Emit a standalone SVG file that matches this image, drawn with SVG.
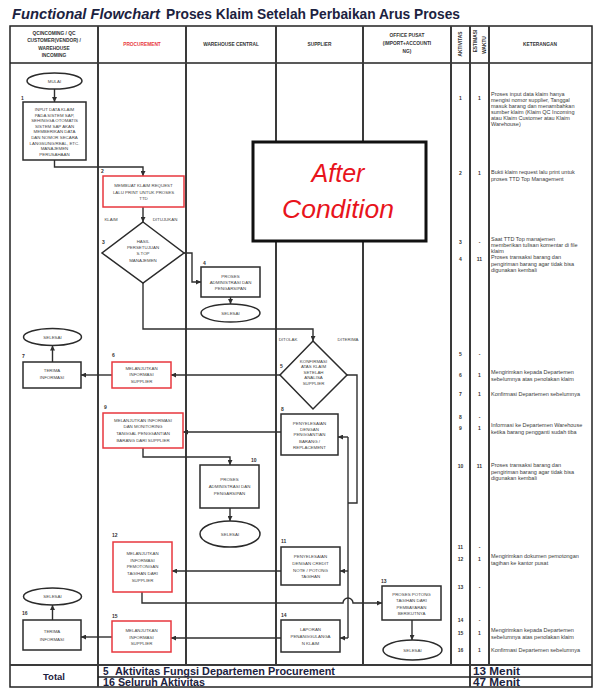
<svg xmlns="http://www.w3.org/2000/svg" width="594" height="691" viewBox="0 0 594 691">
  <style>
    .lane { stroke: #3a3a3a; stroke-width: 2; fill: none; }
    .grid { stroke: #222; stroke-width: 1.5; fill: none; }
    .box { fill: #fff; stroke: #2b2b2b; stroke-width: 1.5; }
    .rbox { fill: #fff; stroke: #e8373e; stroke-width: 1.5; }
    .term { fill: #fff; stroke: #2b2b2b; stroke-width: 1.5; }
    .con { stroke: #2f2f2f; stroke-width: 1.4; fill: none; }
    .t { font-family: "Liberation Sans", Arial, sans-serif; font-size: 4.4px; fill: #444; text-anchor: middle; }
    .lbl { font-family: "Liberation Sans", Arial, sans-serif; font-size: 5px; font-weight: bold; fill: #333; }
    .hd { font-family: "Liberation Sans", Arial, sans-serif; font-size: 4.8px; font-weight: bold; fill: #333; text-anchor: middle; }
    .num { font-family: "Liberation Sans", Arial, sans-serif; font-size: 5px; font-weight: bold; fill: #333; text-anchor: middle; }
    .ket { font-family: "Liberation Sans", Arial, sans-serif; font-size: 5.5px; fill: #3a3a3a; }
    .tot { font-family: "Liberation Sans", Arial, sans-serif; font-weight: bold; fill: #1c2240; }
  </style>
  <defs>
    <marker id="arr" viewBox="0 0 10 10" refX="10" refY="5" markerUnits="userSpaceOnUse" markerWidth="5" markerHeight="5" orient="auto">
      <path d="M0,0 L10,5 L0,10 z" fill="#2f2f2f"/>
    </marker>
  </defs>

  <rect width="594" height="691" fill="#fff"/>

  <!-- title -->
  <g id="title">
    <text x="12" y="19" class="tot" font-size="14" font-style="italic" textLength="148" lengthAdjust="spacingAndGlyphs">Functional Flowchart</text>
    <text x="166" y="19" class="tot" font-size="14" textLength="294" lengthAdjust="spacingAndGlyphs">Proses Klaim Setelah Perbaikan Arus Proses</text>
  </g>

  <!-- swimlane table -->
  <g id="table">
    <rect x="10" y="26" width="582" height="661" class="grid"/>
    <line x1="10" y1="63" x2="592" y2="63" class="grid"/>
    <line x1="98" y1="26" x2="98" y2="687" class="lane"/>
    <line x1="186" y1="26" x2="186" y2="665" class="lane"/>
    <line x1="276" y1="26" x2="276" y2="665" class="lane"/>
    <line x1="363" y1="26" x2="363" y2="665" class="lane"/>
    <line x1="451" y1="26" x2="451" y2="665" class="lane"/>
    <line x1="470" y1="26" x2="470" y2="687" class="lane"/>
    <line x1="489" y1="26" x2="489" y2="665" class="lane"/>
    <line x1="10" y1="665" x2="592" y2="665" class="lane"/>
    <line x1="98" y1="677" x2="592" y2="677" class="grid"/>

    <text class="hd" x="54" y="35">QCINCOMING / QC</text>
    <text class="hd" x="54" y="42">CUSTOMER(VENDOR) /</text>
    <text class="hd" x="54" y="49.5">WAREHOUSE</text>
    <text class="hd" x="54" y="57">INCOMING</text>
    <text class="hd" x="142" y="46" style="fill:#e8373e">PROCUREMENT</text>
    <text class="hd" x="231" y="46">WAREHOUSE CENTRAL</text>
    <text class="hd" x="319.5" y="46">SUPPLIER</text>
    <text class="hd" x="407" y="37">OFFICE PUSAT</text>
    <text class="hd" x="407" y="45">(IMPORT+ACCOUNTI</text>
    <text class="hd" x="407" y="53">NG)</text>
    <text class="hd" transform="translate(462,44) rotate(-90)">AKTIVITAS</text>
    <text class="hd" transform="translate(477,41) rotate(-90)">ESTIMASI</text>
    <text class="hd" transform="translate(485.5,45) rotate(-90)">WAKTU</text>
    <text class="hd" x="540" y="46">KETERANGAN</text>
  </g>

  <!-- activity numbers and time estimates -->
  <g id="activity-columns">
    <text class="num" x="460.5" y="100">1</text><text class="num" x="479.5" y="100">1</text>
    <text class="num" x="460.5" y="175">2</text><text class="num" x="479.5" y="175">1</text>
    <text class="num" x="460.5" y="244">3</text><text class="num" x="479.5" y="244">-</text>
    <text class="num" x="460.5" y="261">4</text><text class="num" x="479.5" y="261">11</text>
    <text class="num" x="460.5" y="356">5</text><text class="num" x="479.5" y="356">-</text>
    <text class="num" x="460.5" y="377">6</text><text class="num" x="479.5" y="377">1</text>
    <text class="num" x="460.5" y="396">7</text><text class="num" x="479.5" y="396">1</text>
    <text class="num" x="460.5" y="419">8</text><text class="num" x="479.5" y="419">-</text>
    <text class="num" x="460.5" y="430">9</text><text class="num" x="479.5" y="430">1</text>
    <text class="num" x="460.5" y="468">10</text><text class="num" x="479.5" y="468">11</text>
    <text class="num" x="460.5" y="549">11</text><text class="num" x="479.5" y="549">-</text>
    <text class="num" x="460.5" y="561">12</text><text class="num" x="479.5" y="561">1</text>
    <text class="num" x="460.5" y="589">13</text><text class="num" x="479.5" y="589">-</text>
    <text class="num" x="460.5" y="622">14</text><text class="num" x="479.5" y="622">-</text>
    <text class="num" x="460.5" y="635">15</text><text class="num" x="479.5" y="635">1</text>
    <text class="num" x="460.5" y="652">16</text><text class="num" x="479.5" y="652">1</text>
  </g>

  <!-- remarks column -->
  <g id="keterangan">
    <text class="ket" x="491" y="96">Proses input data klaim hanya</text>
    <text class="ket" x="491" y="102">mengisi nomor supplier, Tanggal</text>
    <text class="ket" x="491" y="108">masuk barang dan menambahkan</text>
    <text class="ket" x="491" y="114">sumber klaim (Klaim QC Incoming</text>
    <text class="ket" x="491" y="120">atau Klaim Customer atau Klaim</text>
    <text class="ket" x="491" y="126">Warehouse)</text>
    <text class="ket" x="491" y="174">Bukti klaim request lalu print untuk</text>
    <text class="ket" x="491" y="181">proses TTD Top Management</text>
    <text class="ket" x="491" y="241">Saat TTD Top manajemen</text>
    <text class="ket" x="491" y="247">memberikan tulisan komentar di file</text>
    <text class="ket" x="491" y="253">klaim</text>
    <text class="ket" x="491" y="259">Proses transaksi barang dan</text>
    <text class="ket" x="491" y="265.5">pengiriman barang agar tidak bisa</text>
    <text class="ket" x="491" y="272">digunakan kembali</text>
    <text class="ket" x="491" y="374">Mengirimkan kepada Departemen</text>
    <text class="ket" x="491" y="381">sebelumnya atas penolakan klaim</text>
    <text class="ket" x="491" y="396">Konfirmasi Departemen sebelumnya</text>
    <text class="ket" x="491" y="427">Informasi ke Departemen Warehouse</text>
    <text class="ket" x="491" y="434">ketika barang pengganti sudah tiba</text>
    <text class="ket" x="491" y="467">Proses transaksi barang dan</text>
    <text class="ket" x="491" y="473.5">pengiriman barang agar tidak bisa</text>
    <text class="ket" x="491" y="480">digunakan kembali</text>
    <text class="ket" x="491" y="558">Mengirimkan dokumen pemotongan</text>
    <text class="ket" x="491" y="565">tagihan ke kantor pusat</text>
    <text class="ket" x="491" y="632">Mengirimkan kepada Departemen</text>
    <text class="ket" x="491" y="639">sebelumnya atas penolakan klaim</text>
    <text class="ket" x="491" y="652">Konfirmasi Departemen sebelumnya</text>
  </g>

  <!-- connectors -->
  <g id="connectors">
    <path class="con" d="M54.5,89 V102" marker-end="url(#arr)"/>
    <path class="con" d="M54.5,160 V167 H143 V176" marker-end="url(#arr)"/>
    <path class="con" d="M143,207 V222" marker-end="url(#arr)"/>
    <path class="con" d="M184,253 H192 V282 H201" marker-end="url(#arr)"/>
    <path class="con" d="M230.5,297 V304" marker-end="url(#arr)"/>
    <path class="con" d="M143,283 V329 H313 V341" marker-end="url(#arr)"/>
    <path class="con" d="M280,375 H171" marker-end="url(#arr)"/>
    <path class="con" d="M112,375 H81" marker-end="url(#arr)"/>
    <path class="con" d="M52.5,362 V345.5" marker-end="url(#arr)"/>
    <path class="con" d="M347,375 H357 V503 H348"/>
    <path class="con" d="M348,437 V638"/>
    <path class="con" d="M348,437 H338" marker-end="url(#arr)"/>
    <path class="con" d="M348,571 H340" marker-end="url(#arr)"/>
    <path class="con" d="M348,638 H340" marker-end="url(#arr)"/>
    <path class="con" d="M281,432 H183" marker-end="url(#arr)"/>
    <path class="con" d="M143,448 V457 H230 V465" marker-end="url(#arr)"/>
    <path class="con" d="M230,508 V521" marker-end="url(#arr)"/>
    <path class="con" d="M281,571 H172" marker-end="url(#arr)"/>
    <path class="con" d="M142,592 V603 H343 A5,5 0 0 1 353,603 H382" marker-end="url(#arr)"/>
    <path class="con" d="M412,620 V640" marker-end="url(#arr)"/>
    <path class="con" d="M281,638 H171" marker-end="url(#arr)"/>
    <path class="con" d="M112,637 H81" marker-end="url(#arr)"/>
    <path class="con" d="M52.5,620 V605" marker-end="url(#arr)"/>
    <text class="t" x="111" y="221">KLAIM</text>
    <text class="t" x="165" y="221">DITUJUKAN</text>
    <text class="t" x="288" y="341">DITOLAK</text>
    <text class="t" x="348" y="341">DITERIMA</text>
  </g>

  <!-- QC incoming lane -->
  <g id="start">
    <ellipse cx="54.5" cy="81" rx="27.5" ry="8" class="term"/>
    <text class="t" x="54.5" y="82.5">MULAI</text>
  </g>
  <g id="n1">
    <rect x="23" y="102" width="63" height="58" class="box"/>
    <text class="lbl" x="21" y="99.5">1</text>
    <text class="t" x="54.5" y="111">INPUT DATA KLAIM</text>
    <text class="t" x="54.5" y="116.6">PADA SISTEM SAP,</text>
    <text class="t" x="54.5" y="122.2">SEHINGGA OTOMATIS</text>
    <text class="t" x="54.5" y="127.8">SISTEM SAP AKAN</text>
    <text class="t" x="54.5" y="133.4">MEMBERIKAN DATA</text>
    <text class="t" x="54.5" y="139">DAN NOMOR SECARA</text>
    <text class="t" x="54.5" y="144.6">LANGSUNG/REAL, ETC.</text>
    <text class="t" x="54.5" y="150.2">MANAJEMEN</text>
    <text class="t" x="54.5" y="155.8">PERUSAHAAN</text>
  </g>
  <g id="n7">
    <rect x="23" y="362" width="58" height="26" class="box"/>
    <text class="lbl" x="22" y="358">7</text>
    <text class="t" x="52" y="372">TERIMA</text>
    <text class="t" x="52" y="379">INFORMASI</text>
  </g>
  <g id="end7">
    <ellipse cx="52.5" cy="337" rx="29" ry="8.5" class="term"/>
    <text class="t" x="52.5" y="338.5">SELESAI</text>
  </g>
  <g id="n16">
    <rect x="23" y="620" width="58" height="30" class="box"/>
    <text class="lbl" x="22" y="615">16</text>
    <text class="t" x="52" y="633">TERIMA</text>
    <text class="t" x="52" y="640.5">INFORMASI</text>
  </g>
  <g id="end16">
    <ellipse cx="52.5" cy="596.5" rx="29" ry="8.5" class="term"/>
    <text class="t" x="52.5" y="598">SELESAI</text>
  </g>

  <!-- procurement lane -->
  <g id="n2">
    <rect x="103" y="176" width="81" height="31" class="rbox"/>
    <text class="lbl" x="101" y="173">2</text>
    <text class="t" x="143.5" y="187">MEMBUAT KLAIM REQUEST</text>
    <text class="t" x="143.5" y="193.5">LALU PRINT UNTUK PROSES</text>
    <text class="t" x="143.5" y="200">TTD</text>
  </g>
  <g id="n3">
    <polygon points="143,222 184,253 143,283 102,253" class="box"/>
    <text class="lbl" x="102" y="244">3</text>
    <text class="t" x="143" y="242.5">HASIL</text>
    <text class="t" x="143" y="248.5">PERSETUJUAN</text>
    <text class="t" x="143" y="255">S.TOP</text>
    <text class="t" x="143" y="262">MANAJEMEN</text>
  </g>
  <g id="n6">
    <rect x="112" y="362" width="59" height="26" class="rbox"/>
    <text class="lbl" x="112" y="357">6</text>
    <text class="t" x="141.5" y="369.5">MELANJUTKAN</text>
    <text class="t" x="141.5" y="376">INFORMASI</text>
    <text class="t" x="141.5" y="382.5">SUPPLIER</text>
  </g>
  <g id="n9">
    <rect x="103" y="413" width="80" height="35" class="rbox"/>
    <text class="lbl" x="104" y="409">9</text>
    <text class="t" x="143" y="421.5">MELANJUTKAN INFORMASI</text>
    <text class="t" x="143" y="428">DAN MONITORING</text>
    <text class="t" x="143" y="435">TANGGAL PENGGANTIAN</text>
    <text class="t" x="143" y="441.5">BARANG DARI SUPPLIER</text>
  </g>
  <g id="n12">
    <rect x="113" y="542" width="59" height="50" class="rbox"/>
    <text class="lbl" x="112" y="537">12</text>
    <text class="t" x="142.5" y="555">MELANJUTKAN</text>
    <text class="t" x="142.5" y="561.5">INFORMASI</text>
    <text class="t" x="142.5" y="568">PEMOTONGAN</text>
    <text class="t" x="142.5" y="575">TAGIHAN DARI</text>
    <text class="t" x="142.5" y="581.5">SUPPLIER</text>
  </g>
  <g id="n15">
    <rect x="112" y="621" width="59" height="31" class="rbox"/>
    <text class="lbl" x="112" y="617.5">15</text>
    <text class="t" x="141.5" y="631.5">MELANJUTKAN</text>
    <text class="t" x="141.5" y="638.5">INFORMASI</text>
    <text class="t" x="141.5" y="645">SUPPLIER</text>
  </g>

  <!-- warehouse central lane -->
  <g id="n4">
    <rect x="201" y="267" width="59" height="30" class="box"/>
    <text class="lbl" x="203" y="264.5">4</text>
    <text class="t" x="230.5" y="277.5">PROSES</text>
    <text class="t" x="230.5" y="283.5">ADMINISTRASI DAN</text>
    <text class="t" x="230.5" y="290">PENGARSIPAN</text>
  </g>
  <g id="end4">
    <ellipse cx="230.5" cy="313" rx="29.5" ry="9" class="term"/>
    <text class="t" x="230.5" y="314.5">SELESAI</text>
  </g>
  <g id="n10">
    <rect x="200" y="465" width="59" height="43" class="box"/>
    <text class="lbl" x="251" y="461.5">10</text>
    <text class="t" x="229.5" y="481">PROSES</text>
    <text class="t" x="229.5" y="488">ADMINISTRASI DAN</text>
    <text class="t" x="229.5" y="494.5">PENGARSIPAN</text>
  </g>
  <g id="end10">
    <ellipse cx="230" cy="534" rx="30" ry="13" class="term"/>
    <text class="t" x="230" y="535.5">SELESAI</text>
  </g>

  <!-- supplier lane -->
  <g id="n5">
    <polygon points="313,341 347,375 313,409 280,375" class="box"/>
    <text class="lbl" x="280" y="368">5</text>
    <text class="t" x="313.5" y="362.5">KONFIRMASI</text>
    <text class="t" x="313.5" y="368">ATAS KLAIM</text>
    <text class="t" x="313.5" y="373.5">SETELAH</text>
    <text class="t" x="313.5" y="379">ANALISA</text>
    <text class="t" x="313.5" y="384.5">SUPPLIER</text>
  </g>
  <g id="n8">
    <rect x="281" y="414" width="57" height="41" class="box"/>
    <text class="lbl" x="281" y="411">8</text>
    <text class="t" x="309.5" y="425">PENYELESAIAN</text>
    <text class="t" x="309.5" y="430.5">DENGAN</text>
    <text class="t" x="309.5" y="436">PENGGANTIAN</text>
    <text class="t" x="309.5" y="442.5">BARANG /</text>
    <text class="t" x="309.5" y="449">REPLACEMENT</text>
  </g>
  <g id="n11">
    <rect x="281" y="547" width="59" height="38" class="box"/>
    <text class="lbl" x="281" y="543">11</text>
    <text class="t" x="310.5" y="558">PENYELESAIAN</text>
    <text class="t" x="310.5" y="565">DENGAN CREDIT</text>
    <text class="t" x="310.5" y="571.5">NOTE / POTONG</text>
    <text class="t" x="310.5" y="578">TAGIHAN</text>
  </g>
  <g id="n14">
    <rect x="281" y="620" width="59" height="32" class="box"/>
    <text class="lbl" x="281" y="616.5">14</text>
    <text class="t" x="310.5" y="631">LAPORAN</text>
    <text class="t" x="310.5" y="638">PENANGGULANGA</text>
    <text class="t" x="310.5" y="644.5">N KLAIM</text>
  </g>

  <!-- office lane -->
  <g id="n13">
    <rect x="382" y="586" width="59" height="34" class="box"/>
    <text class="lbl" x="381" y="583">13</text>
    <text class="t" x="411.5" y="595.5">PROSES POTONG</text>
    <text class="t" x="411.5" y="602">TAGIHAN DARI</text>
    <text class="t" x="411.5" y="608.5">PEMBAYARAN</text>
    <text class="t" x="411.5" y="614.5">BERIKUTNYA</text>
  </g>
  <g id="end13">
    <ellipse cx="412.5" cy="650" rx="29.5" ry="10" class="term"/>
    <text class="t" x="412.5" y="651.5">SELESAI</text>
  </g>

  <!-- status callout -->
  <g id="after-condition">
    <rect x="253" y="142" width="173" height="99" fill="#fff" stroke="#111" stroke-width="3"/>
    <text x="338" y="182" font-family="'Liberation Sans', Arial, sans-serif" font-size="25" font-style="italic" fill="#e8141c" text-anchor="middle">After</text>
    <text x="338" y="217.5" font-family="'Liberation Sans', Arial, sans-serif" font-size="25" font-style="italic" fill="#e8141c" text-anchor="middle" textLength="112" lengthAdjust="spacingAndGlyphs">Condition</text>
  </g>

  <!-- totals row -->
  <g id="totals">
    <text class="tot" x="54" y="680" font-size="9.5" text-anchor="middle">Total</text>
    <text class="tot" x="103" y="675" font-size="10">5</text>
    <text class="tot" x="115" y="675" font-size="10" textLength="220" lengthAdjust="spacingAndGlyphs">Aktivitas Fungsi Departemen Procurement</text>
    <text class="tot" x="103" y="685.5" font-size="10" textLength="102" lengthAdjust="spacingAndGlyphs">16 Seluruh Aktivitas</text>
    <text class="tot" x="473" y="675" font-size="10" textLength="47" lengthAdjust="spacingAndGlyphs">13 Menit</text>
    <text class="tot" x="473" y="685.5" font-size="10" textLength="47" lengthAdjust="spacingAndGlyphs">47 Menit</text>
  </g>
</svg>
